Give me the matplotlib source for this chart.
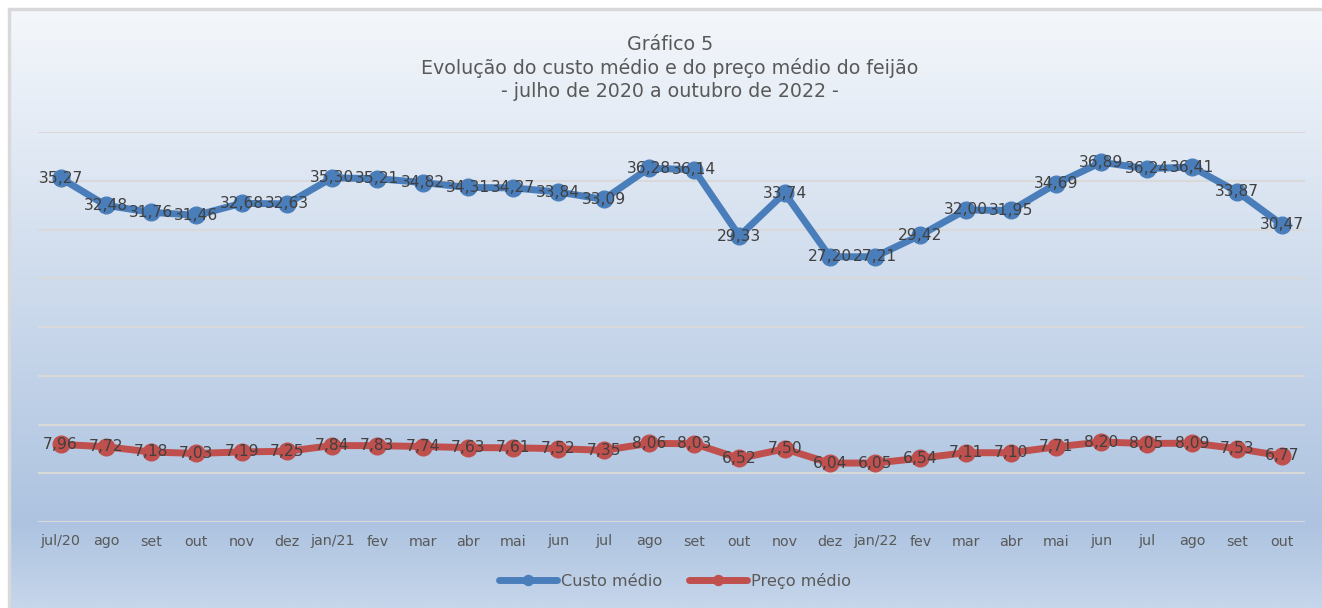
import matplotlib.pyplot as plt
import numpy as np
from matplotlib.colors import LinearSegmentedColormap

# dados do gráfico
meses = ["jul/20", "ago", "set", "out", "nov", "dez", "jan/21", "fev", "mar", "abr",
         "mai", "jun", "jul", "ago", "set", "out", "nov", "dez", "jan/22", "fev",
         "mar", "abr", "mai", "jun", "jul", "ago", "set", "out"]
custo = [35.27, 32.48, 31.76, 31.46, 32.68, 32.63, 35.30, 35.21, 34.82, 34.31,
         34.27, 33.84, 33.09, 36.28, 36.14, 29.33, 33.74, 27.20, 27.21, 29.42,
         32.00, 31.95, 34.69, 36.89, 36.24, 36.41, 33.87, 30.47]
preco = [7.96, 7.72, 7.18, 7.03, 7.19, 7.25, 7.84, 7.83, 7.74, 7.63,
         7.61, 7.52, 7.35, 8.06, 8.03, 6.52, 7.50, 6.04, 6.05, 6.54,
         7.11, 7.10, 7.71, 8.20, 8.05, 8.09, 7.53, 6.77]

W, H = 1322, 608
fig = plt.figure(figsize=(W / 100, H / 100), dpi=100)
fig.patch.set_facecolor("white")

# fundo em degradê (borda cinza clara à esquerda e em cima)
bg = fig.add_axes([10 / W, 0, 1 - 10 / W, 1 - 10 / H])
cmap = LinearSegmentedColormap.from_list(
    "fundo", [(0, "#f4f7fb"), (0.86, "#adc3e0"), (1, "#c6d6eb")])
bg.imshow(np.linspace(0, 1, 256).reshape(-1, 1), aspect="auto", cmap=cmap,
          extent=[0, 1, 0, 1], origin="upper")
bg.set_axis_off()
fig.patches.append(plt.Rectangle((8 / W, 0), 2 / W, 1 - 8 / H, transform=fig.transFigure,
                                 color="#d9d9d9", zorder=0))
fig.patches.append(plt.Rectangle((8 / W, 1 - 10 / H), 1 - 8 / W, 2 / H, transform=fig.transFigure,
                                 color="#d9d9d9", zorder=0))

# área do gráfico
left, right, top, bottom = 38, 1305, 132, 522
ax = fig.add_axes([left / W, 1 - bottom / H, (right - left) / W, (bottom - top) / H])
ax.patch.set_alpha(0)

x = np.arange(len(meses))
ax.plot(x, custo, color="#4a7ebb", lw=5, marker="o", ms=12, label="Custo médio",
        solid_capstyle="round", zorder=3)
ax.plot(x, preco, color="#c0504d", lw=5, marker="o", ms=12, label="Preço médio",
        solid_capstyle="round", zorder=3)

for i in range(len(meses)):
    ax.text(x[i], custo[i], f"{custo[i]:.2f}".replace(".", ","), ha="center", va="center",
            fontsize=11.2, color="#404040", zorder=4)
    ax.text(x[i], preco[i], f"{preco[i]:.2f}".replace(".", ","), ha="center", va="center",
            fontsize=11.2, color="#404040", zorder=4)

ax.set_xlim(-0.5, len(meses) - 0.5)
ax.set_ylim(0, 40)
ax.set_yticks(np.arange(0, 41, 5))
ax.yaxis.grid(True, color="#d9d9d9", lw=1.5)
ax.set_axisbelow(True)
ax.tick_params(axis="y", left=False, labelleft=False)
ax.set_xticks(x)
ax.set_xticklabels(meses, fontsize=10.3, color="#595959")
ax.tick_params(axis="x", length=0, pad=9)
for s in ax.spines.values():
    s.set_visible(False)

fig.text(670 / W, 1 - 68 / H, "Gráfico 5\nEvolução do custo médio e do preço médio do feijão\n"
         "- julho de 2020 a outubro de 2022 -", ha="center", va="center",
         fontsize=13.7, color="#595959", linespacing=1.27)

leg = ax.legend(loc="center", bbox_to_anchor=(675 / W, 1 - 581 / H),
                bbox_transform=fig.transFigure, ncol=2, frameon=False,
                fontsize=11.6, labelcolor="#595959", handlelength=3.6,
                columnspacing=1.7, handletextpad=0.25, markerscale=0.6)

fig.savefig("out.png", dpi=100)
